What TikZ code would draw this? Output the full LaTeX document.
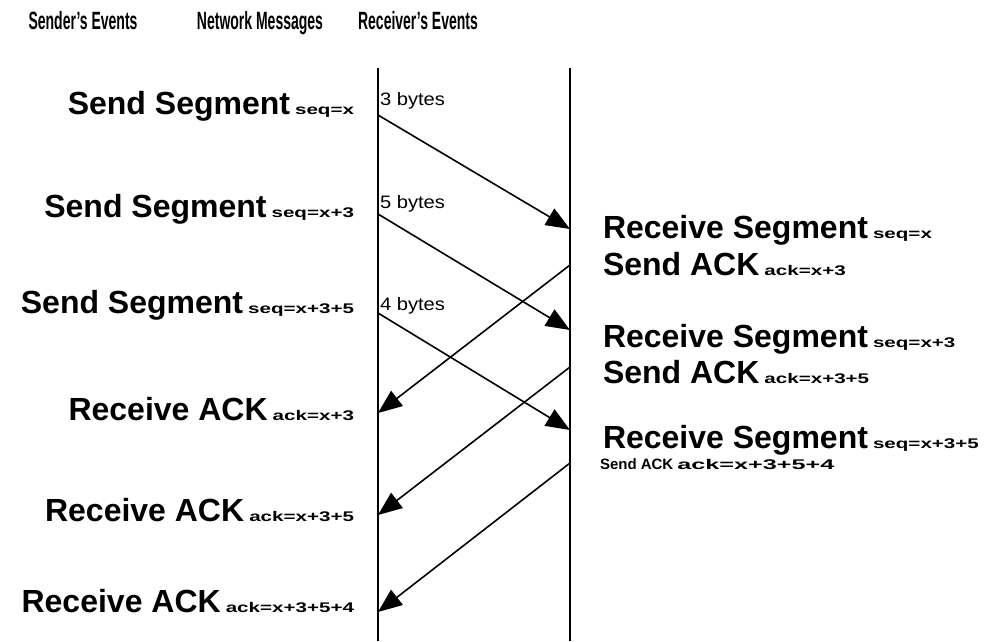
\documentclass[tikz,border=0pt]{standalone}
\usepackage{fontspec}
\usepackage{graphicx}
\setmainfont{Liberation Sans}
\usetikzlibrary{arrows.meta}

% Text styles
\newcommand\headtxt[1]{\scalebox{0.56}[1]{\fontsize{25}{25}\selectfont\bfseries #1}}
\newcommand\evtxt[1]{{\fontsize{32}{32}\selectfont\bfseries #1}}
\newcommand\smtxt[1]{\scalebox{1.47}[1]{\fontsize{14}{14}\selectfont\bfseries #1}}
\newcommand\bytetxt[1]{\scalebox{1.12}[1]{\fontsize{18}{18}\selectfont #1}}

\tikzset{
  lbl/.style={inner sep=0pt, outer sep=0pt},
  timeline/.style={line width=2.6pt},
  msg/.style={line width=1.6pt, -{Triangle[length=24pt,width=19pt]}},
}

\begin{document}
\begin{tikzpicture}[x=1pt,y=-1pt]
\useasboundingbox (0,0) rectangle (985,641);

% Column headings
\node[lbl, anchor=base] (hsnd) at (83,29) {\headtxt{Sender's Events}};
\node[lbl, anchor=base] (hnet) at (260,29) {\headtxt{Network Messages}};
\node[lbl, anchor=base] (hrcv) at (418,29) {\headtxt{Receiver's Events}};

% Time lines of sender and receiver
\coordinate (sTop) at (378,68);
\coordinate (sBot) at (378,641);
\coordinate (rTop) at (570,68);
\coordinate (rBot) at (570,641);
\draw[timeline] (sTop) -- (sBot);
\draw[timeline] (rTop) -- (rBot);

% Sender's events
\node[lbl, anchor=base east] (se1) at (354,114) {\evtxt{Send Segment}\hspace{5pt}\smtxt{seq=x}};
\node[lbl, anchor=base east] (se2) at (354,217) {\evtxt{Send Segment}\hspace{5pt}\smtxt{seq=x+3}};
\node[lbl, anchor=base east] (se3) at (354,313) {\evtxt{Send Segment}\hspace{5pt}\smtxt{seq=x+3+5}};
\node[lbl, anchor=base east] (se4) at (354,420) {\evtxt{Receive ACK}\hspace{5pt}\smtxt{ack=x+3}};
\node[lbl, anchor=base east] (se5) at (354,521) {\evtxt{Receive ACK}\hspace{5pt}\smtxt{ack=x+3+5}};
\node[lbl, anchor=base east] (se6) at (354,612) {\evtxt{Receive ACK}\hspace{5pt}\smtxt{ack=x+3+5+4}};

% Receiver's events
\node[lbl, anchor=base west] (re1) at (603,238) {\evtxt{Receive Segment}\hspace{5pt}\smtxt{seq=x}};
\node[lbl, anchor=base west] (re2) at (603,275) {\evtxt{Send ACK}\hspace{5pt}\smtxt{ack=x+3}};
\node[lbl, anchor=base west] (re3) at (603,347) {\evtxt{Receive Segment}\hspace{5pt}\smtxt{seq=x+3}};
\node[lbl, anchor=base west] (re4) at (603,383) {\evtxt{Send ACK}\hspace{5pt}\smtxt{ack=x+3+5}};
\node[lbl, anchor=base west] (re5) at (603,448) {\evtxt{Receive Segment}\hspace{5pt}\smtxt{seq=x+3+5}};
\node[lbl, anchor=base west] (re6) at (600,469) {{\fontsize{15}{15}\selectfont\bfseries Send ACK}\hspace{4pt}\scalebox{1.8}[1]{\fontsize{14}{14}\selectfont\bfseries ack=x+3+5+4}};

% Segment sizes
\node[lbl, anchor=base west] (b1) at (380,105) {\bytetxt{3 bytes}};
\node[lbl, anchor=base west] (b2) at (380,208) {\bytetxt{5 bytes}};
\node[lbl, anchor=base west] (b3) at (380,310) {\bytetxt{4 bytes}};

% Segments: sender -> receiver
\coordinate (d1s) at (378,115);  \coordinate (d1r) at (570,229);
\coordinate (d2s) at (378,214);  \coordinate (d2r) at (570,330);
\coordinate (d3s) at (378,313);  \coordinate (d3r) at (570,430);
\draw[msg] (d1s) -- (d1r);
\draw[msg] (d2s) -- (d2r);
\draw[msg] (d3s) -- (d3r);

% Acknowledgements: receiver -> sender
\coordinate (a1r) at (570,265);  \coordinate (a1s) at (378,413);
\coordinate (a2r) at (570,367);  \coordinate (a2s) at (378,515);
\coordinate (a3r) at (570,463);  \coordinate (a3s) at (378,612);
\draw[msg] (a1r) -- (a1s);
\draw[msg] (a2r) -- (a2s);
\draw[msg] (a3r) -- (a3s);
\end{tikzpicture}
\end{document}
